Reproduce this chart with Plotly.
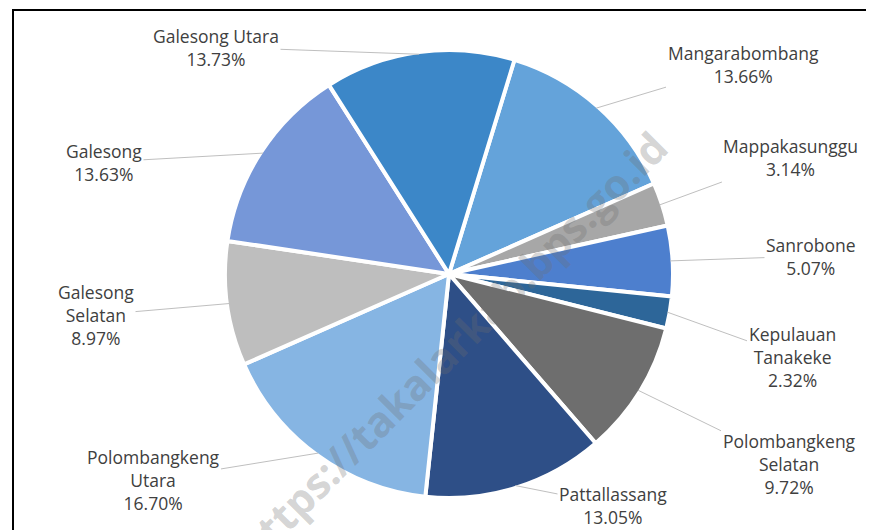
import math
import plotly.graph_objects as go

# ---- data ----
labels = ["Mangarabombang", "Mappakasunggu", "Sanrobone", "Kepulauan Tanakeke",
          "Polombangkeng Selatan", "Pattallassang", "Polombangkeng Utara",
          "Galesong Selatan", "Galesong", "Galesong Utara"]
label_text = ["Mangarabombang", "Mappakasunggu", "Sanrobone", "Kepulauan<br>Tanakeke",
              "Polombangkeng<br>Selatan", "Pattallassang", "Polombangkeng<br>Utara",
              "Galesong<br>Selatan", "Galesong", "Galesong Utara"]
values = [13.66, 3.14, 5.07, 2.32, 9.72, 13.05, 16.70, 8.97, 13.63, 13.73]
colors = ["#64A3DA", "#A7A7A7", "#4D7FCE", "#2D6699", "#6E6E6E",
          "#2E4F87", "#86B5E3", "#BEBEBE", "#7697D8", "#3C87C8"]

# ---- layout / style ----
W, H = 874, 530
rotation = 17
cx, cy, R = 441, 266, 224
# label block centres (pixels) -- layout placement
label_pos = [(735, 56), (782, 149), (803, 248), (784, 349), (781, 456),
             (605, 497), (145, 472), (88, 307), (96, 154), (208, 39)]

fig = go.Figure()
fig.add_trace(go.Pie(
    labels=labels, values=values, sort=False, direction="clockwise",
    rotation=rotation, textinfo="none", hoverinfo="label+percent",
    marker=dict(colors=colors, line=dict(color="white", width=4)),
    domain=dict(x=[(cx - R) / W, (cx + R) / W],
                y=[1 - (cy + R) / H, 1 - (cy - R) / H]),
    showlegend=False,
))

total = sum(values)
annotations = []
cum = 0.0
for lab, v, (lx, ly) in zip(label_text, values, label_pos):
    mid = rotation + (cum + v / 2) / total * 360.0
    cum += v
    a = math.radians(mid)
    tx = cx + R * 0.99 * math.sin(a)
    ty = cy - R * 0.99 * math.cos(a)
    annotations.append(dict(
        x=tx / W, y=1 - ty / H, xref="paper", yref="paper",
        ax=lx - tx, ay=ly - ty, axref="pixel", ayref="pixel",
        text=f"{lab}<br>{v:.2f}%", showarrow=True, arrowhead=0,
        arrowwidth=1, arrowcolor="#BFBFBF", standoff=0, startstandoff=0,
        font=dict(family="Open Sans", size=17.5, color="#404040"),
        align="center",
    ))

# watermark
annotations.append(dict(
    x=443 / W, y=1 - 338 / H, xref="paper", yref="paper",
    text="https://takalarkab.bps.go.id", showarrow=False, textangle=-45,
    font=dict(family="Open Sans", size=42, color="rgba(110,110,110,0.30)", weight="bold"),
))

fig.update_layout(
    width=W, height=H, margin=dict(l=0, r=0, t=0, b=0),
    paper_bgcolor="white", plot_bgcolor="white",
    annotations=annotations,
    shapes=[dict(type="rect", xref="paper", yref="paper",
                 x0=5 / W, x1=872 / W, y0=-0.05, y1=1 - 2 / H,
                 line=dict(color="black", width=2))],
)

fig.write_html("out.html")
